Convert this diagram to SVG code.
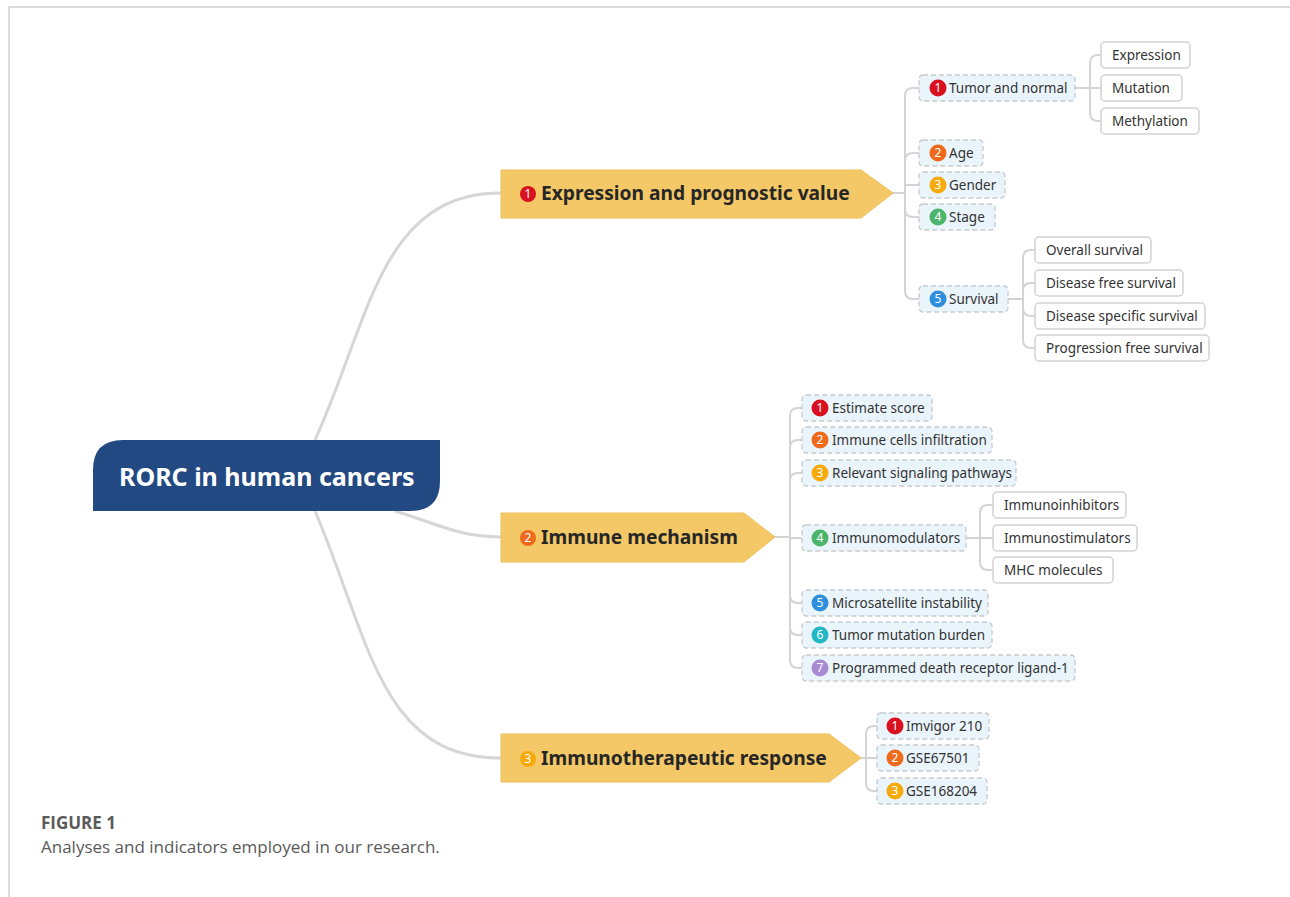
<svg xmlns="http://www.w3.org/2000/svg" width="1290" height="897" viewBox="0 0 1290 897">
  <style>
    .frame { fill: none; stroke: #cfcfcf; stroke-width: 1.5; }
    .main { fill: none; stroke: #d6d6d6; stroke-width: 3; }
    .sub { fill: none; stroke: #d4d4d4; stroke-width: 2; }
    .branch { fill: #f4c866; stroke: #efc05a; stroke-width: 1; }
    .btext { font-family: "Noto Sans", "Open Sans", sans-serif; font-weight: bold; font-size: 19.2px; fill: #262626; }
    .topic { fill: #eaf4fb; stroke: #c8cacc; stroke-width: 1.3; stroke-dasharray: 5 3; }
    .leaf { fill: #ffffff; stroke: #d2d2d2; stroke-width: 1.5; }
    .t { font-family: "Noto Sans", "Open Sans", sans-serif; font-size: 13.5px; fill: #333333; }
    .num { font-family: "Noto Sans", "Liberation Sans", sans-serif; font-size: 12px; fill: #ffffff; text-anchor: middle; }
    .c1 { fill: #d9101e; } .c2 { fill: #f06a1d; } .c3 { fill: #f7aa0c; }
    .c4 { fill: #4cb56b; } .c5 { fill: #2f8fdc; } .c6 { fill: #24b5c6; } .c7 { fill: #a88bd2; }
    .cap { font-family: "Open Sans", "Lato", sans-serif; fill: #5a5a5a; }
  </style>

  <!-- page frame -->
  <path class="frame" d="M9,897 V7 H1290"/>

  <!-- connectors -->
  <g id="connectors">
    <path class="main" d="M315,440 C370,320 380,193 501,193"/>
    <path class="main" d="M395,511 C440,525 460,537 501,537"/>
    <path class="main" d="M315,511 C370,640 380,758 501,758"/>

    <!-- branch 1 children -->
    <path class="sub" d="M893,193 H905"/>
    <path class="sub" d="M905,193 V96 Q905,88 913,88 H919"/>
    <path class="sub" d="M905,193 V161 Q905,153 913,153 H919"/>
    <path class="sub" d="M905,193 V185 H919"/>
    <path class="sub" d="M905,193 V209 Q905,217 913,217 H919"/>
    <path class="sub" d="M905,193 V291 Q905,299 913,299 H919"/>
    <path class="sub" d="M1075,88 H1090"/>
    <path class="sub" d="M1090,88 V63 Q1090,55 1098,55 H1101"/>
    <path class="sub" d="M1090,88 H1101"/>
    <path class="sub" d="M1090,88 V113 Q1090,121 1098,121 H1101"/>
    <path class="sub" d="M1008,299 H1023"/>
    <path class="sub" d="M1023,299 V258 Q1023,250 1031,250 H1035"/>
    <path class="sub" d="M1023,299 V291 Q1023,283 1031,283 H1035"/>
    <path class="sub" d="M1023,299 V308 Q1023,316 1031,316 H1035"/>
    <path class="sub" d="M1023,299 V340 Q1023,348 1031,348 H1035"/>

    <!-- branch 2 children -->
    <path class="sub" d="M775,537 H790"/>
    <path class="sub" d="M790,537 V416 Q790,408 798,408 H802"/>
    <path class="sub" d="M790,537 V448 Q790,440 798,440 H802"/>
    <path class="sub" d="M790,537 V481 Q790,473 798,473 H802"/>
    <path class="sub" d="M790,537 V538 H802"/>
    <path class="sub" d="M790,537 V595 Q790,603 798,603 H802"/>
    <path class="sub" d="M790,537 V627 Q790,635 798,635 H802"/>
    <path class="sub" d="M790,537 V660 Q790,668 798,668 H802"/>
    <path class="sub" d="M966,538 H980"/>
    <path class="sub" d="M980,538 V513 Q980,505 988,505 H993"/>
    <path class="sub" d="M980,538 H993"/>
    <path class="sub" d="M980,538 V562 Q980,570 988,570 H993"/>

    <!-- branch 3 children -->
    <path class="sub" d="M861,758 H866"/>
    <path class="sub" d="M866,758 V734 Q866,726 874,726 H877"/>
    <path class="sub" d="M866,758 H877"/>
    <path class="sub" d="M866,758 V783 Q866,791 874,791 H877"/>
  </g>

  <!-- central topic -->
  <g id="root">
    <path d="M123,440 H440 V481 Q440,511 410,511 H93 V470 Q93,440 123,440 Z" fill="#234982"/>
    <text x="119" y="486" font-family="Noto Sans, Open Sans, sans-serif" font-weight="bold" font-size="25px" fill="#ffffff">RORC in human cancers</text>
  </g>

  <!-- main branches -->
  <g id="branch-expression">
    <path class="branch" d="M501,170 H861 L893,193 L861,218 H501 Z"/>
    <circle class="c1" cx="528" cy="194" r="8"/>
    <text class="num" x="528" y="198">1</text>
    <text class="btext" x="541" y="200">Expression and prognostic value</text>
  </g>
  <g id="branch-immune">
    <path class="branch" d="M501,513 H744 L775,537 L744,562 H501 Z"/>
    <circle class="c2" cx="528" cy="538" r="8"/>
    <text class="num" x="528" y="542">2</text>
    <text class="btext" x="541" y="544">Immune mechanism</text>
  </g>
  <g id="branch-response">
    <path class="branch" d="M501,734 H829 L861,758 L829,782 H501 Z"/>
    <circle class="c3" cx="528" cy="759" r="8"/>
    <text class="num" x="528" y="763">3</text>
    <text class="btext" x="541" y="765">Immunotherapeutic response</text>
  </g>

  <!-- branch 1 subtopics -->
  <g id="tumor-normal">
    <rect class="topic" x="919" y="75" width="156" height="26" rx="4"/>
    <circle class="c1" cx="938" cy="88" r="8.5"/><text class="num" x="938" y="92">1</text>
    <text class="t" x="949" y="93">Tumor and normal</text>
  </g>
  <g id="expression">
    <rect class="leaf" x="1101" y="42" width="89" height="26" rx="4"/>
    <text class="t" x="1112" y="60">Expression</text>
  </g>
  <g id="mutation">
    <rect class="leaf" x="1101" y="75" width="81" height="26" rx="4"/>
    <text class="t" x="1112" y="93">Mutation</text>
  </g>
  <g id="methylation">
    <rect class="leaf" x="1101" y="108" width="98" height="26" rx="4"/>
    <text class="t" x="1112" y="126">Methylation</text>
  </g>
  <g id="age">
    <rect class="topic" x="919" y="140" width="64" height="26" rx="4"/>
    <circle class="c2" cx="938" cy="153" r="8.5"/><text class="num" x="938" y="157">2</text>
    <text class="t" x="949" y="158">Age</text>
  </g>
  <g id="gender">
    <rect class="topic" x="919" y="172" width="86" height="26" rx="4"/>
    <circle class="c3" cx="938" cy="185" r="8.5"/><text class="num" x="938" y="189">3</text>
    <text class="t" x="949" y="190">Gender</text>
  </g>
  <g id="stage">
    <rect class="topic" x="919" y="204" width="76" height="26" rx="4"/>
    <circle class="c4" cx="938" cy="217" r="8.5"/><text class="num" x="938" y="221">4</text>
    <text class="t" x="949" y="222">Stage</text>
  </g>
  <g id="survival">
    <rect class="topic" x="919" y="286" width="89" height="26" rx="4"/>
    <circle class="c5" cx="938" cy="299" r="8.5"/><text class="num" x="938" y="303">5</text>
    <text class="t" x="949" y="304">Survival</text>
  </g>
  <g id="overall-survival">
    <rect class="leaf" x="1035" y="237" width="116" height="26" rx="4"/>
    <text class="t" x="1046" y="255">Overall survival</text>
  </g>
  <g id="disease-free-survival">
    <rect class="leaf" x="1035" y="270" width="148" height="26" rx="4"/>
    <text class="t" x="1046" y="288">Disease free survival</text>
  </g>
  <g id="disease-specific-survival">
    <rect class="leaf" x="1035" y="303" width="170" height="26" rx="4"/>
    <text class="t" x="1046" y="321">Disease specific survival</text>
  </g>
  <g id="progression-free-survival">
    <rect class="leaf" x="1035" y="335" width="174" height="26" rx="4"/>
    <text class="t" x="1046" y="353">Progression free survival</text>
  </g>

  <!-- branch 2 subtopics -->
  <g id="estimate-score">
    <rect class="topic" x="802" y="395" width="130" height="26" rx="4"/>
    <circle class="c1" cx="820" cy="408" r="8.5"/><text class="num" x="820" y="412">1</text>
    <text class="t" x="832" y="413">Estimate score</text>
  </g>
  <g id="immune-cells">
    <rect class="topic" x="802" y="427" width="190" height="26" rx="4"/>
    <circle class="c2" cx="820" cy="440" r="8.5"/><text class="num" x="820" y="444">2</text>
    <text class="t" x="832" y="445">Immune cells infiltration</text>
  </g>
  <g id="signaling-pathways">
    <rect class="topic" x="802" y="460" width="214" height="26" rx="4"/>
    <circle class="c3" cx="820" cy="473" r="8.5"/><text class="num" x="820" y="477">3</text>
    <text class="t" x="832" y="478">Relevant signaling pathways</text>
  </g>
  <g id="immunomodulators">
    <rect class="topic" x="802" y="525" width="164" height="26" rx="4"/>
    <circle class="c4" cx="820" cy="538" r="8.5"/><text class="num" x="820" y="542">4</text>
    <text class="t" x="832" y="543">Immunomodulators</text>
  </g>
  <g id="immunoinhibitors">
    <rect class="leaf" x="993" y="492" width="133" height="26" rx="4"/>
    <text class="t" x="1004" y="510">Immunoinhibitors</text>
  </g>
  <g id="immunostimulators">
    <rect class="leaf" x="993" y="525" width="144" height="26" rx="4"/>
    <text class="t" x="1004" y="543">Immunostimulators</text>
  </g>
  <g id="mhc-molecules">
    <rect class="leaf" x="993" y="557" width="120" height="26" rx="4"/>
    <text class="t" x="1004" y="575">MHC molecules</text>
  </g>
  <g id="msi">
    <rect class="topic" x="802" y="590" width="186" height="26" rx="4"/>
    <circle class="c5" cx="820" cy="603" r="8.5"/><text class="num" x="820" y="607">5</text>
    <text class="t" x="832" y="608">Microsatellite instability</text>
  </g>
  <g id="tmb">
    <rect class="topic" x="802" y="622" width="190" height="26" rx="4"/>
    <circle class="c6" cx="820" cy="635" r="8.5"/><text class="num" x="820" y="639">6</text>
    <text class="t" x="832" y="640">Tumor mutation burden</text>
  </g>
  <g id="pd-l1">
    <rect class="topic" x="802" y="655" width="273" height="26" rx="4"/>
    <circle class="c7" cx="820" cy="668" r="8.5"/><text class="num" x="820" y="672">7</text>
    <text class="t" x="832" y="673">Programmed death receptor ligand-1</text>
  </g>

  <!-- branch 3 subtopics -->
  <g id="imvigor">
    <rect class="topic" x="877" y="713" width="112" height="26" rx="4"/>
    <circle class="c1" cx="895" cy="726" r="8.5"/><text class="num" x="895" y="730">1</text>
    <text class="t" x="906" y="731">Imvigor 210</text>
  </g>
  <g id="gse67501">
    <rect class="topic" x="877" y="745" width="102" height="26" rx="4"/>
    <circle class="c2" cx="895" cy="758" r="8.5"/><text class="num" x="895" y="762">2</text>
    <text class="t" x="906" y="763">GSE67501</text>
  </g>
  <g id="gse168204">
    <rect class="topic" x="877" y="778" width="110" height="26" rx="4"/>
    <circle class="c3" cx="895" cy="791" r="8.5"/><text class="num" x="895" y="795">3</text>
    <text class="t" x="906" y="796">GSE168204</text>
  </g>

  <!-- caption -->
  <text class="cap" x="41" y="829" font-size="17px" font-weight="bold">FIGURE 1</text>
  <text class="cap" x="41" y="853" font-size="17px" fill="#666666">Analyses and indicators employed in our research.</text>
</svg>
